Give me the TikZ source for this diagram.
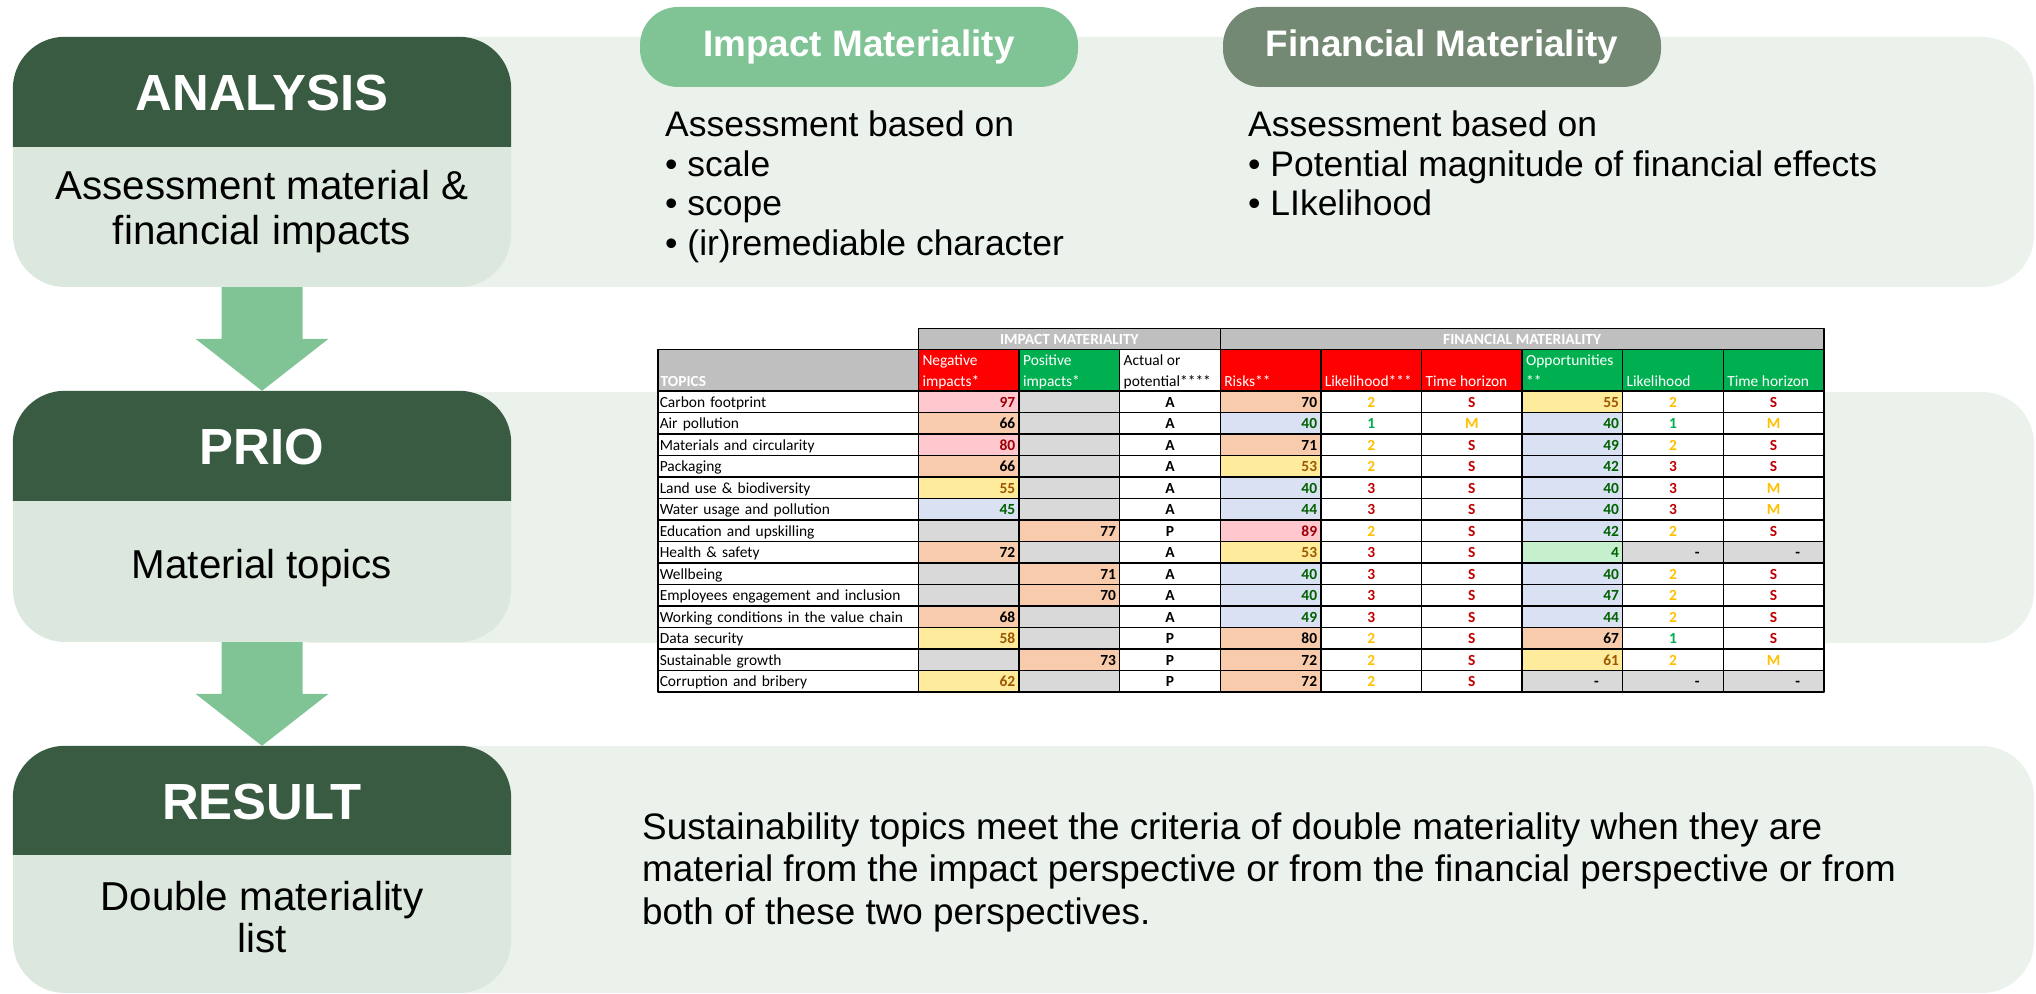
\documentclass[tikz,border=0pt]{standalone}
\usepackage{fontspec}
\setmainfont{Liberation Sans}
\newfontfamily\tabfont{Carlito}
\usetikzlibrary{calc}
\definecolor{stagegreen}{RGB}{56,91,65}
\definecolor{boxlight}{RGB}{220,231,222}
\definecolor{bandgreen}{RGB}{235,242,236}
\definecolor{arrowgreen}{RGB}{128,196,150}
\definecolor{finpill}{RGB}{116,137,115}
\definecolor{headgrey}{RGB}{191,191,191}
\definecolor{headred}{RGB}{255,0,0}
\definecolor{headgreen}{RGB}{0,176,80}
\definecolor{cellpink}{RGB}{255,199,206}
\definecolor{cellpeach}{RGB}{248,203,173}
\definecolor{cellyel}{RGB}{255,235,156}
\definecolor{cellblue}{RGB}{217,225,242}
\definecolor{cellmint}{RGB}{198,239,206}
\definecolor{cellgrey}{RGB}{217,217,217}
\definecolor{txtred}{RGB}{156,0,6}
\definecolor{txtbrown}{RGB}{156,87,0}
\definecolor{txtgreen}{RGB}{0,97,0}
\definecolor{lvlamber}{RGB}{255,192,0}
\definecolor{lvlgreen}{RGB}{0,176,80}
\definecolor{lvlred}{RGB}{192,0,0}
\newcommand{\tabtxt}{\tabfont\fontsize{15.5}{18}\selectfont}
\begin{document}
\begin{tikzpicture}[>=latex,line join=bevel,
  band/.style={fill=bandgreen,rounded corners=52bp,inner sep=0pt,minimum width=1772bp},
  stagebox/.style={fill=boxlight,rounded corners=52bp,minimum width=498bp,inner sep=0pt},
  stagetop/.style={fill=stagegreen,rounded corners=52bp},
  stagetitle/.style={anchor=base,inner sep=0pt,text=white,font=\fontsize{51}{60}\selectfont\bfseries},
  stagebody/.style={anchor=base,inner sep=0pt,font=\fontsize{40.5}{48}\selectfont},
  flowarrow/.style={fill=arrowgreen},
  pill/.style={rounded corners=38bp,minimum width=438bp,minimum height=80bp,text=white,font=\fontsize{37}{44}\selectfont\bfseries},
  crit/.style={anchor=base west,inner sep=0pt,font=\fontsize{35.6}{42}\selectfont},
  tcell/.style={draw=black,line width=1.3bp,fill=white,minimum width=100.6bp,minimum height=21.5bp,inner sep=0pt,outer sep=0pt,text height=12.1bp,text depth=1bp,font=\tabtxt},
  topc/.style={tcell,minimum width=260.5bp,text width=257bp,align=left},
  numc/.style={tcell,text width=93bp,align=right,font=\tabtxt\bfseries},
  pinkc/.style={numc,fill=cellpink,text=txtred},
  peachc/.style={numc,fill=cellpeach,text=black},
  yelc/.style={numc,fill=cellyel,text=txtbrown},
  bluec/.style={numc,fill=cellblue,text=txtgreen},
  mintc/.style={numc,fill=cellmint,text=txtgreen},
  greyc/.style={numc,fill=cellgrey,text=black},
  midc/.style={tcell,text width=93bp,align=center,font=\tabtxt\bfseries},
  blkc/.style={midc,text=black},
  ambc/.style={midc,text=lvlamber},
  grnc/.style={midc,text=lvlgreen},
  redc/.style={midc,text=lvlred},
  grpc/.style={draw=black,line width=1.3bp,fill=headgrey,minimum height=21bp,inner sep=0pt,outer sep=0pt,text height=13.4bp,text depth=1bp,text=white,font=\tabtxt\bfseries},
  hdrc/.style={draw=black,line width=1.3bp,minimum width=100.6bp,minimum height=41.7bp,inner sep=0pt,outer sep=0pt},
  hdtxt/.style={anchor=base west,inner sep=0pt,font=\tabfont\fontsize{15.5}{21.7}\selectfont},
]
\useasboundingbox (0bp,0bp) rectangle (2036bp,994bp);
%%
  % Band: behind the three stages
  \node[band,minimum height=250bp] (band1) at (1148bp,832bp) {};
  \node[band,minimum height=251bp] (band2) at (1148bp,476.5bp) {};
  \node[band,minimum height=247bp] (band3) at (1148bp,124.5bp) {};
  % Node: ANALYSIS
\begin{scope}
  \node[stagebox,minimum height=250bp] (analysis) at (262bp,832bp) {};
  \fill[stagetop] ([yshift=-110bp]analysis.north west) -- (analysis.north west) -- (analysis.north east) -- ([yshift=-110bp]analysis.north east);
  \node[stagetitle] (analysis-t) at (262bp,883bp) {ANALYSIS};
  \node[stagebody] (analysis-b1) at (262bp,794bp) {Assessment material \&};
  \node[stagebody] (analysis-b2) at (262bp,749bp) {financial impacts};
\end{scope}
  % Node: PRIO
\begin{scope}
  \node[stagebox,minimum height=251bp] (prio) at (262bp,477.5bp) {};
  \fill[stagetop] ([yshift=-110bp]prio.north west) -- (prio.north west) -- (prio.north east) -- ([yshift=-110bp]prio.north east);
  \node[stagetitle] (prio-t) at (262bp,529bp) {PRIO};
  \node[stagebody] (prio-b1) at (262bp,415bp) {Material topics};
\end{scope}
  % Node: RESULT
\begin{scope}
  \node[stagebox,minimum height=247bp] (result) at (262bp,124.5bp) {};
  \fill[stagetop] ([yshift=-109bp]result.north west) -- (result.north west) -- (result.north east) -- ([yshift=-109bp]result.north east);
  \node[stagetitle] (result-t) at (262bp,174bp) {RESULT};
  \node[stagebody] (result-b1) at (262bp,83bp) {Double materiality};
  \node[stagebody] (result-b2) at (262bp,41bp) {list};
\end{scope}
  % Edge: ANALYSIS -> PRIO
  \fill[flowarrow] ([xshift=-40.5bp]analysis.south) -- ([xshift=40.5bp]analysis.south) -- ($(prio.north)+(40.5bp,52bp)$) -- ($(prio.north)+(66.5bp,52bp)$) -- (prio.north) -- ($(prio.north)+(-66.5bp,52bp)$) -- ($(prio.north)+(-40.5bp,52bp)$) -- cycle;
  % Edge: PRIO -> RESULT
  \fill[flowarrow] ([xshift=-40.5bp]prio.south) -- ([xshift=40.5bp]prio.south) -- ($(result.north)+(40.5bp,52bp)$) -- ($(result.north)+(66.5bp,52bp)$) -- (result.north) -- ($(result.north)+(-66.5bp,52bp)$) -- ($(result.north)+(-40.5bp,52bp)$) -- cycle;
  % Node: Impact Materiality
  \node[pill,fill=arrowgreen] (impact) at (859bp,947bp) {Impact Materiality};
  \node[crit] (impact-c0) at (665bp,857.5bp) {Assessment based on};
  \node[crit] (impact-c1) at (665bp,817.5bp) {• scale};
  \node[crit] (impact-c2) at (665bp,778bp) {• scope};
  \node[crit] (impact-c3) at (665bp,738.5bp) {• (ir)remediable character};
  % Node: Financial Materiality
  \node[pill,fill=finpill] (financial) at (1442bp,947bp) {Financial Materiality};
  \node[crit] (financial-c0) at (1248bp,857.5bp) {Assessment based on};
  \node[crit] (financial-c1) at (1248bp,817.5bp) {• Potential magnitude of financial effects};
  \node[crit] (financial-c2) at (1248bp,778bp) {• LIkelihood};
  % Node: conclusion
  \node[crit,font=\fontsize{37}{44}\selectfont] (concl-1) at (642bp,154.3bp) {Sustainability topics meet the criteria of double materiality when they are};
  \node[crit,font=\fontsize{37}{44}\selectfont] (concl-2) at (642bp,112bp) {material from the impact perspective or from the financial perspective or from};
  \node[crit,font=\fontsize{37}{44}\selectfont] (concl-3) at (642bp,69bp) {both of these two perspectives.};
  % Table: headers
  \node[grpc,minimum width=301.8bp] (impgrp) at (1069.4bp,655.2bp) {IMPACT MATERIALITY};
  \node[grpc,minimum width=603.6bp] (fingrp) at (1522.1bp,655.2bp) {FINANCIAL MATERIALITY};
  \node[hdrc,fill=headgrey,minimum width=260.5bp] (hdtopics) at (788.25bp,623.85bp) {};
  \node[hdrc,fill=headred] (hdneg) at (968.8bp,623.85bp) {};
  \node[hdrc,fill=headgreen] (hdpos) at (1069.4bp,623.85bp) {};
  \node[hdrc,fill=white] (hdact) at (1170bp,623.85bp) {};
  \node[hdrc,fill=headred] (hdrisk) at (1270.6bp,623.85bp) {};
  \node[hdrc,fill=headred] (hdlikr) at (1371.2bp,623.85bp) {};
  \node[hdrc,fill=headred] (hdhorr) at (1471.8bp,623.85bp) {};
  \node[hdrc,fill=headgreen] (hdopp) at (1572.4bp,623.85bp) {};
  \node[hdrc,fill=headgreen] (hdliko) at (1673bp,623.85bp) {};
  \node[hdrc,fill=headgreen] (hdhoro) at (1773.6bp,623.85bp) {};
  \node[hdtxt,text=white,font=\tabtxt\bfseries] (tx-topics) at (660.5bp,607.3bp) {TOPICS};
  \node[hdtxt,text=white] (tx-neg) at (922.3bp,607.3bp) {\vbox{\hbox{Negative}\hbox{impacts*}}};
  \node[hdtxt,text=white] (tx-pos) at (1022.9bp,607.3bp) {\vbox{\hbox{Positive}\hbox{impacts*}}};
  \node[hdtxt,text=black] (tx-act) at (1123.5bp,607.3bp) {\vbox{\hbox{Actual or}\hbox{potential****}}};
  \node[hdtxt,text=white] (tx-risk) at (1224.1bp,607.3bp) {Risks**};
  \node[hdtxt,text=white] (tx-likr) at (1324.7bp,607.3bp) {Likelihood***};
  \node[hdtxt,text=white] (tx-horr) at (1425.3bp,607.3bp) {Time horizon};
  \node[hdtxt,text=white] (tx-opp) at (1525.9bp,607.3bp) {\vbox{\hbox{Opportunities}\hbox{**}}};
  \node[hdtxt,text=white] (tx-liko) at (1626.5bp,607.3bp) {Likelihood};
  \node[hdtxt,text=white] (tx-horo) at (1727.1bp,607.3bp) {Time horizon};
  % Table: rows
  \node[topc] (tp1) at (788.25bp,592.25bp) {Carbon footprint};
  \node[pinkc] (ng1) at (968.8bp,592.25bp) {97}; \node[greyc] (ps1) at (1069.4bp,592.25bp) {}; \node[blkc] (ap1) at (1170bp,592.25bp) {A};
  \node[peachc] (rk1) at (1270.6bp,592.25bp) {70}; \node[ambc] (lr1) at (1371.2bp,592.25bp) {2}; \node[redc] (hr1) at (1471.8bp,592.25bp) {S};
  \node[yelc] (op1) at (1572.4bp,592.25bp) {55}; \node[ambc] (lo1) at (1673bp,592.25bp) {2}; \node[redc] (ho1) at (1773.6bp,592.25bp) {S};
  \node[topc] (tp2) at (788.25bp,570.75bp) {Air pollution};
  \node[peachc] (ng2) at (968.8bp,570.75bp) {66}; \node[greyc] (ps2) at (1069.4bp,570.75bp) {}; \node[blkc] (ap2) at (1170bp,570.75bp) {A};
  \node[bluec] (rk2) at (1270.6bp,570.75bp) {40}; \node[grnc] (lr2) at (1371.2bp,570.75bp) {1}; \node[ambc] (hr2) at (1471.8bp,570.75bp) {M};
  \node[bluec] (op2) at (1572.4bp,570.75bp) {40}; \node[grnc] (lo2) at (1673bp,570.75bp) {1}; \node[ambc] (ho2) at (1773.6bp,570.75bp) {M};
  \node[topc] (tp3) at (788.25bp,549.25bp) {Materials and circularity};
  \node[pinkc] (ng3) at (968.8bp,549.25bp) {80}; \node[greyc] (ps3) at (1069.4bp,549.25bp) {}; \node[blkc] (ap3) at (1170bp,549.25bp) {A};
  \node[peachc] (rk3) at (1270.6bp,549.25bp) {71}; \node[ambc] (lr3) at (1371.2bp,549.25bp) {2}; \node[redc] (hr3) at (1471.8bp,549.25bp) {S};
  \node[bluec] (op3) at (1572.4bp,549.25bp) {49}; \node[ambc] (lo3) at (1673bp,549.25bp) {2}; \node[redc] (ho3) at (1773.6bp,549.25bp) {S};
  \node[topc] (tp4) at (788.25bp,527.75bp) {Packaging};
  \node[peachc] (ng4) at (968.8bp,527.75bp) {66}; \node[greyc] (ps4) at (1069.4bp,527.75bp) {}; \node[blkc] (ap4) at (1170bp,527.75bp) {A};
  \node[yelc] (rk4) at (1270.6bp,527.75bp) {53}; \node[ambc] (lr4) at (1371.2bp,527.75bp) {2}; \node[redc] (hr4) at (1471.8bp,527.75bp) {S};
  \node[bluec] (op4) at (1572.4bp,527.75bp) {42}; \node[redc] (lo4) at (1673bp,527.75bp) {3}; \node[redc] (ho4) at (1773.6bp,527.75bp) {S};
  \node[topc] (tp5) at (788.25bp,506.25bp) {Land use \& biodiversity};
  \node[yelc] (ng5) at (968.8bp,506.25bp) {55}; \node[greyc] (ps5) at (1069.4bp,506.25bp) {}; \node[blkc] (ap5) at (1170bp,506.25bp) {A};
  \node[bluec] (rk5) at (1270.6bp,506.25bp) {40}; \node[redc] (lr5) at (1371.2bp,506.25bp) {3}; \node[redc] (hr5) at (1471.8bp,506.25bp) {S};
  \node[bluec] (op5) at (1572.4bp,506.25bp) {40}; \node[redc] (lo5) at (1673bp,506.25bp) {3}; \node[ambc] (ho5) at (1773.6bp,506.25bp) {M};
  \node[topc] (tp6) at (788.25bp,484.75bp) {Water usage and pollution};
  \node[bluec] (ng6) at (968.8bp,484.75bp) {45}; \node[greyc] (ps6) at (1069.4bp,484.75bp) {}; \node[blkc] (ap6) at (1170bp,484.75bp) {A};
  \node[bluec] (rk6) at (1270.6bp,484.75bp) {44}; \node[redc] (lr6) at (1371.2bp,484.75bp) {3}; \node[redc] (hr6) at (1471.8bp,484.75bp) {S};
  \node[bluec] (op6) at (1572.4bp,484.75bp) {40}; \node[redc] (lo6) at (1673bp,484.75bp) {3}; \node[ambc] (ho6) at (1773.6bp,484.75bp) {M};
  \node[topc] (tp7) at (788.25bp,463.25bp) {Education and upskilling};
  \node[greyc] (ng7) at (968.8bp,463.25bp) {}; \node[peachc] (ps7) at (1069.4bp,463.25bp) {77}; \node[blkc] (ap7) at (1170bp,463.25bp) {P};
  \node[pinkc] (rk7) at (1270.6bp,463.25bp) {89}; \node[ambc] (lr7) at (1371.2bp,463.25bp) {2}; \node[redc] (hr7) at (1471.8bp,463.25bp) {S};
  \node[bluec] (op7) at (1572.4bp,463.25bp) {42}; \node[ambc] (lo7) at (1673bp,463.25bp) {2}; \node[redc] (ho7) at (1773.6bp,463.25bp) {S};
  \node[topc] (tp8) at (788.25bp,441.75bp) {Health \& safety};
  \node[peachc] (ng8) at (968.8bp,441.75bp) {72}; \node[greyc] (ps8) at (1069.4bp,441.75bp) {}; \node[blkc] (ap8) at (1170bp,441.75bp) {A};
  \node[yelc] (rk8) at (1270.6bp,441.75bp) {53}; \node[redc] (lr8) at (1371.2bp,441.75bp) {3}; \node[redc] (hr8) at (1471.8bp,441.75bp) {S};
  \node[mintc] (op8) at (1572.4bp,441.75bp) {4}; \node[greyc] (lo8) at (1673bp,441.75bp) {-\hspace*{20bp}}; \node[greyc] (ho8) at (1773.6bp,441.75bp) {-\hspace*{20bp}};
  \node[topc] (tp9) at (788.25bp,420.25bp) {Wellbeing};
  \node[greyc] (ng9) at (968.8bp,420.25bp) {}; \node[peachc] (ps9) at (1069.4bp,420.25bp) {71}; \node[blkc] (ap9) at (1170bp,420.25bp) {A};
  \node[bluec] (rk9) at (1270.6bp,420.25bp) {40}; \node[redc] (lr9) at (1371.2bp,420.25bp) {3}; \node[redc] (hr9) at (1471.8bp,420.25bp) {S};
  \node[bluec] (op9) at (1572.4bp,420.25bp) {40}; \node[ambc] (lo9) at (1673bp,420.25bp) {2}; \node[redc] (ho9) at (1773.6bp,420.25bp) {S};
  \node[topc] (tp10) at (788.25bp,398.75bp) {Employees engagement and inclusion};
  \node[greyc] (ng10) at (968.8bp,398.75bp) {}; \node[peachc] (ps10) at (1069.4bp,398.75bp) {70}; \node[blkc] (ap10) at (1170bp,398.75bp) {A};
  \node[bluec] (rk10) at (1270.6bp,398.75bp) {40}; \node[redc] (lr10) at (1371.2bp,398.75bp) {3}; \node[redc] (hr10) at (1471.8bp,398.75bp) {S};
  \node[bluec] (op10) at (1572.4bp,398.75bp) {47}; \node[ambc] (lo10) at (1673bp,398.75bp) {2}; \node[redc] (ho10) at (1773.6bp,398.75bp) {S};
  \node[topc] (tp11) at (788.25bp,377.25bp) {Working conditions in the value chain};
  \node[peachc] (ng11) at (968.8bp,377.25bp) {68}; \node[greyc] (ps11) at (1069.4bp,377.25bp) {}; \node[blkc] (ap11) at (1170bp,377.25bp) {A};
  \node[bluec] (rk11) at (1270.6bp,377.25bp) {49}; \node[redc] (lr11) at (1371.2bp,377.25bp) {3}; \node[redc] (hr11) at (1471.8bp,377.25bp) {S};
  \node[bluec] (op11) at (1572.4bp,377.25bp) {44}; \node[ambc] (lo11) at (1673bp,377.25bp) {2}; \node[redc] (ho11) at (1773.6bp,377.25bp) {S};
  \node[topc] (tp12) at (788.25bp,355.75bp) {Data security};
  \node[yelc] (ng12) at (968.8bp,355.75bp) {58}; \node[greyc] (ps12) at (1069.4bp,355.75bp) {}; \node[blkc] (ap12) at (1170bp,355.75bp) {P};
  \node[peachc] (rk12) at (1270.6bp,355.75bp) {80}; \node[ambc] (lr12) at (1371.2bp,355.75bp) {2}; \node[redc] (hr12) at (1471.8bp,355.75bp) {S};
  \node[peachc] (op12) at (1572.4bp,355.75bp) {67}; \node[grnc] (lo12) at (1673bp,355.75bp) {1}; \node[redc] (ho12) at (1773.6bp,355.75bp) {S};
  \node[topc] (tp13) at (788.25bp,334.25bp) {Sustainable growth};
  \node[greyc] (ng13) at (968.8bp,334.25bp) {}; \node[peachc] (ps13) at (1069.4bp,334.25bp) {73}; \node[blkc] (ap13) at (1170bp,334.25bp) {P};
  \node[peachc] (rk13) at (1270.6bp,334.25bp) {72}; \node[ambc] (lr13) at (1371.2bp,334.25bp) {2}; \node[redc] (hr13) at (1471.8bp,334.25bp) {S};
  \node[yelc] (op13) at (1572.4bp,334.25bp) {61}; \node[ambc] (lo13) at (1673bp,334.25bp) {2}; \node[ambc] (ho13) at (1773.6bp,334.25bp) {M};
  \node[topc] (tp14) at (788.25bp,312.75bp) {Corruption and bribery};
  \node[yelc] (ng14) at (968.8bp,312.75bp) {62}; \node[greyc] (ps14) at (1069.4bp,312.75bp) {}; \node[blkc] (ap14) at (1170bp,312.75bp) {P};
  \node[peachc] (rk14) at (1270.6bp,312.75bp) {72}; \node[ambc] (lr14) at (1371.2bp,312.75bp) {2}; \node[redc] (hr14) at (1471.8bp,312.75bp) {S};
  \node[greyc] (op14) at (1572.4bp,312.75bp) {-\hspace*{20bp}}; \node[greyc] (lo14) at (1673bp,312.75bp) {-\hspace*{20bp}}; \node[greyc] (ho14) at (1773.6bp,312.75bp) {-\hspace*{20bp}};
%
\end{tikzpicture}
\end{document}
